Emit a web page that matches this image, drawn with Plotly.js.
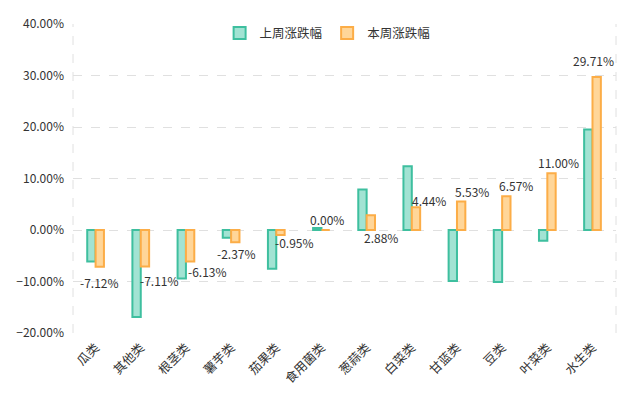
<!DOCTYPE html>
<html>
<head>
<meta charset="utf-8">
<script src="https://cdn.plot.ly/plotly-3.0.1.min.js"></script>
<style>html,body{margin:0;padding:0;background:#fff;}#chart{width:641px;height:393px;}</style>
</head>
<body>
<div id="chart"></div>
<script>
// ---- data ----
const categories = ['瓜类','其他类','根茎类','薯芋类','茄果类','食用菌类','葱蒜类','白菜类','甘蓝类','豆类','叶菜类','水生类'];
const lastWeek = [-6.1, -16.9, -9.4, -1.5, -7.5, 0.4, 7.85, 12.4, -9.9, -10.1, -2.1, 19.5];
const thisWeek = [-7.12, -7.11, -6.13, -2.37, -0.95, 0.00, 2.88, 4.44, 5.53, 6.57, 11.00, 29.71];
const seriesNames = ['上周涨跌幅','本周涨跌幅'];

// ---- label offsets (pixels, style only) ----
const labelDX = [4, 19, 22, 5, 18, 6, 14, 17.5, 15, 14, 11, 1];
const labelDY = [-16, -14, -10, -11, -8, 11, -22, 7, 10, 11, 11, 16];

const font = '"Noto Sans CJK SC", "Noto Sans", sans-serif';

const traces = [
  {
    type: 'bar', name: seriesNames[0], x: categories, y: lastWeek,
    marker: {color: '#a2e3d3', line: {color: '#3ebf9f', width: 2}},
    hoverinfo: 'skip'
  },
  {
    type: 'bar', name: seriesNames[1], x: categories, y: thisWeek,
    marker: {color: '#ffd699', line: {color: '#fcad47', width: 2}},
    hoverinfo: 'skip'
  }
];

const annotations = thisWeek.map((v, i) => ({
  x: categories[i], y: v, xref: 'x', yref: 'y',
  text: v.toFixed(2) + '%', showarrow: false,
  xshift: labelDX[i], yshift: labelDY[i],
  xanchor: 'center', yanchor: 'middle',
  font: {family: font, size: 12, color: '#333'}
}));

const layout = {
  width: 641, height: 393,
  margin: {l: 73, r: 25, t: 24, b: 60},
  paper_bgcolor: '#fff', plot_bgcolor: '#fff',
  font: {family: font, size: 12, color: '#333'},
  barmode: 'group', bargap: 0.63, bargroupgap: 0,
  showlegend: true,
  legend: {
    orientation: 'h', x: 0.27, xanchor: 'left', y: 0.97, yanchor: 'middle',
    bgcolor: 'rgba(0,0,0,0)', font: {family: font, size: 12.5, color: '#333'},
    itemwidth: 30, traceorder: 'normal'
  },
  xaxis: {
    type: 'category', tickangle: -45, showgrid: false, zeroline: false,
    showline: false, ticks: '', tickfont: {family: font, size: 12.5, color: '#333'},
    ticklabelstandoff: 4, fixedrange: true
  },
  yaxis: {
    range: [-20, 40], dtick: 10, tick0: 0, tickformat: '.2f', ticksuffix: '%',
    showgrid: true, gridcolor: '#e0e0e0', griddash: 'dash', gridwidth: 1,
    zeroline: false, showline: false, ticks: '', ticklabelstandoff: 8,
    tickfont: {family: font, size: 12, color: '#333'}, fixedrange: true
  },
  shapes: [
    {type: 'line', xref: 'paper', yref: 'paper', x0: 0, x1: 0, y0: 0, y1: 1,
     line: {color: '#e0e0e0', width: 1, dash: 'dash'}, layer: 'below'},
    {type: 'line', xref: 'paper', yref: 'paper', x0: 1, x1: 1, y0: 0, y1: 1,
     line: {color: '#e0e0e0', width: 1, dash: 'dash'}, layer: 'below'}
  ],
  annotations: annotations
};

Plotly.newPlot('chart', traces, layout, {displayModeBar: false, staticPlot: true});
</script>
</body>
</html>
